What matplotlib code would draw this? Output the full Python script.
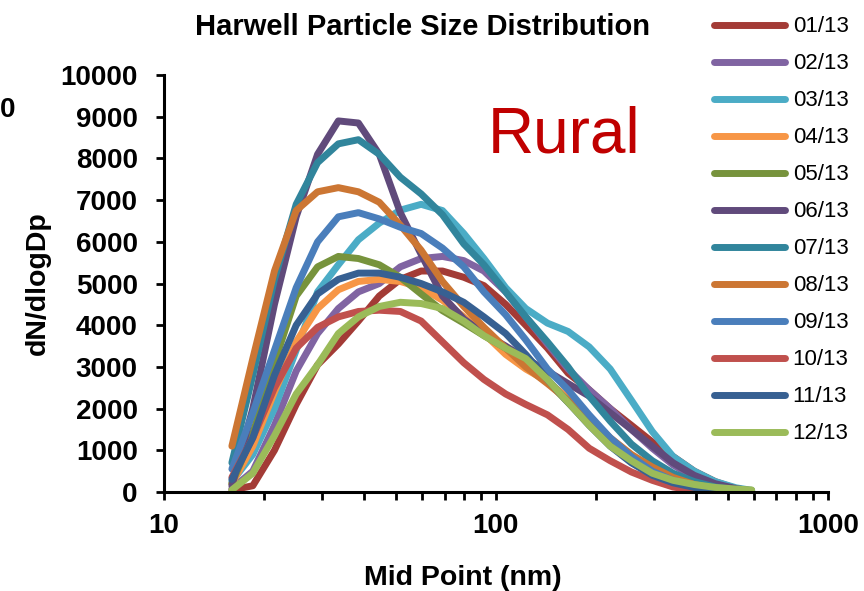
import matplotlib
matplotlib.use("Agg")
import matplotlib.pyplot as plt
from matplotlib.ticker import FixedLocator, LogLocator, NullFormatter

plt.rcParams['font.family'] = ['Liberation Sans', 'DejaVu Sans']

# mid point of each size bin (nm)
mid_point = [16, 18.5, 21.5, 25, 29, 33.5, 38.5, 44.5, 51.5, 59.5, 69, 80, 92,
             107, 123, 143, 165, 191, 221, 256, 296, 342, 396, 458, 530, 590]

months = ['01/13', '02/13', '03/13', '04/13', '05/13', '06/13',
          '07/13', '08/13', '09/13', '10/13', '11/13', '12/13']

m01 = [50, 150, 1000, 2100, 3050, 3550, 4100, 4700, 5100, 5300, 5300, 5150, 4950,
       4500, 4000, 3450, 2850, 2450, 2000, 1600, 1200, 850, 500, 250, 80, 20]
m02 = [80, 500, 1600, 2900, 3800, 4400, 4800, 5000, 5400, 5600, 5650, 5550, 5300,
       4800, 4200, 3550, 2950, 2450, 2000, 1500, 1050, 650, 350, 150, 60, 20]
m03 = [250, 900, 2000, 3400, 4800, 5450, 6050, 6450, 6760, 6900, 6750, 6200, 5600,
       4900, 4400, 4050, 3850, 3480, 2950, 2200, 1450, 850, 500, 250, 100, 40]
m04 = [200, 1100, 2400, 3600, 4400, 4850, 5050, 5100, 5050, 4900, 4600, 4200, 3800,
       3300, 2950, 2650, 2250, 1750, 1250, 850, 550, 330, 180, 90, 40, 15]
m05 = [200, 1400, 3100, 4700, 5400, 5650, 5600, 5450, 5150, 4750, 4350, 4050, 3750,
       3450, 3100, 2650, 2150, 1650, 1150, 750, 450, 250, 130, 60, 25, 10]
m06 = [150, 2000, 4500, 6600, 8100, 8900, 8850, 8100, 6700, 5700, 4700, 4150, 3800,
       3500, 3200, 2900, 2600, 2300, 1900, 1500, 1100, 700, 400, 200, 80, 30]
m07 = [700, 2800, 5100, 6900, 7900, 8350, 8450, 8100, 7550, 7150, 6650, 5950, 5450,
       4800, 4200, 3600, 3000, 2300, 1700, 1150, 750, 450, 250, 120, 50, 20]
m08 = [1100, 3200, 5300, 6750, 7200, 7300, 7200, 6950, 6400, 5800, 5050, 4450, 3950,
       3450, 3000, 2600, 2200, 1750, 1300, 900, 600, 350, 180, 80, 30, 10]
m09 = [550, 1900, 3400, 4900, 6000, 6600, 6700, 6550, 6350, 6200, 5850, 5400, 4800,
       4250, 3650, 2950, 2450, 1850, 1300, 850, 500, 280, 150, 70, 30, 10]
m10 = [350, 1300, 2500, 3450, 3950, 4200, 4330, 4360, 4330, 4100, 3600, 3100, 2700,
       2350, 2100, 1850, 1500, 1050, 750, 480, 280, 120, 40, 10, 0, 0]
m11 = [300, 1300, 2800, 4000, 4750, 5100, 5250, 5250, 5150, 5000, 4800, 4550, 4200,
       3800, 3300, 2700, 2150, 1600, 1100, 700, 400, 220, 110, 50, 20, 10]
m12 = [50, 450, 1350, 2350, 3050, 3800, 4200, 4450, 4550, 4520, 4400, 4100, 3750,
       3450, 3200, 2700, 2150, 1600, 1100, 750, 450, 280, 180, 110, 70, 50]

series = [m01, m02, m03, m04, m05, m06, m07, m08, m09, m10, m11, m12]
colors = ['#A33B36', '#8064A2', '#4BACC6', '#F79646', '#77933C', '#604A7B',
          '#31859C', '#CC7633', '#4A7EBB', '#C0504D', '#376092', '#9BBB59']

fig = plt.figure(figsize=(8.64, 5.91), dpi=100)
ax = fig.add_axes([0.19, 0.1675, 0.768, 0.7055])

for vals, lab, c in zip(series, months, colors):
    ax.plot(mid_point, vals, color=c, lw=5, label=lab,
            solid_capstyle='round', solid_joinstyle='round')

ax.set_xscale('log')
ax.set_xlim(10, 1000)
ax.set_ylim(0, 10000)
ax.yaxis.set_major_locator(FixedLocator(range(0, 10001, 1000)))
ax.xaxis.set_major_locator(FixedLocator([10, 100, 1000]))
ax.xaxis.set_minor_locator(LogLocator(base=10, subs=range(2, 10)))
ax.xaxis.set_minor_formatter(NullFormatter())
ax.set_xticklabels(['10', '100', '1000'])

for s in ['top', 'right']:
    ax.spines[s].set_visible(False)
for s in ['left', 'bottom']:
    ax.spines[s].set_linewidth(2.2)

ax.tick_params(axis='both', which='both', direction='out', width=2, length=6)
ax.tick_params(axis='y', labelsize=20, pad=13)
ax.tick_params(axis='x', labelsize=20, pad=9)
for t in ax.get_xticklabels() + ax.get_yticklabels():
    t.set_fontweight('bold')

ax.set_xlabel('Mid Point (nm)', fontsize=20.5, fontweight='bold')
ax.set_ylabel('dN/dlogDp', fontsize=20.5, fontweight='bold')
ax.xaxis.set_label_coords(0.45, -0.175)
ax.yaxis.set_label_coords(-0.17, 0.5)
fig.text(0.489, 0.954, 'Harwell Particle Size Distribution', ha='center', va='center',
         fontsize=21, fontweight='bold')
ax.text(0.603, 0.856, 'Rural', transform=ax.transAxes, ha='center', va='center',
        fontsize=46, color='#C00000')
fig.text(0.0, 1 - 110 / 591, '0', ha='left', va='center', fontsize=20, fontweight='bold')

fig.legend(loc='upper left', bbox_to_anchor=(0.803, 1.006), frameon=False,
           fontsize=16, handlelength=3.2, labelspacing=0.72, handletextpad=0.35)

fig.savefig('out.png', dpi=100)
